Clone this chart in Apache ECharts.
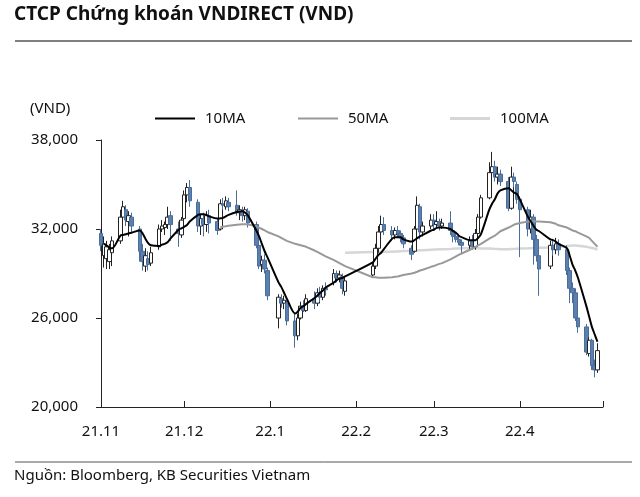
<!DOCTYPE html>
<html>
<head>
<meta charset="utf-8">
<script src="https://cdn.jsdelivr.net/npm/echarts@6/dist/echarts.min.js"></script>
<style>
html,body{margin:0;padding:0;background:#fff;}
#chart{width:640px;height:497px;}
</style>
</head>
<body>
<div id="chart"></div>
<script>
// ---- DATA ----
const dates = [
 '2021-11-01','2021-11-02','2021-11-03','2021-11-04','2021-11-05','2021-11-08','2021-11-09','2021-11-10','2021-11-11','2021-11-12','2021-11-15','2021-11-16','2021-11-17','2021-11-18','2021-11-19','2021-11-22','2021-11-23','2021-11-24','2021-11-25','2021-11-26','2021-11-29','2021-11-30',
 '2021-12-01','2021-12-02','2021-12-03','2021-12-06','2021-12-07','2021-12-08','2021-12-09','2021-12-10','2021-12-13','2021-12-14','2021-12-15','2021-12-16','2021-12-17','2021-12-20','2021-12-21','2021-12-22','2021-12-23','2021-12-24','2021-12-27','2021-12-28','2021-12-29','2021-12-30','2021-12-31',
 '2022-01-04','2022-01-05','2022-01-06','2022-01-07','2022-01-10','2022-01-11','2022-01-12','2022-01-13','2022-01-14','2022-01-17','2022-01-18','2022-01-19','2022-01-20','2022-01-21','2022-01-24','2022-01-25','2022-01-26','2022-01-27','2022-01-28',
 '2022-02-07','2022-02-08','2022-02-09','2022-02-10','2022-02-11','2022-02-14','2022-02-15','2022-02-16','2022-02-17','2022-02-18','2022-02-21','2022-02-22','2022-02-23','2022-02-24','2022-02-25','2022-02-28',
 '2022-03-01','2022-03-02','2022-03-03','2022-03-04','2022-03-07','2022-03-08','2022-03-09','2022-03-10','2022-03-11','2022-03-14','2022-03-15','2022-03-16','2022-03-17','2022-03-18','2022-03-21','2022-03-22','2022-03-23','2022-03-24','2022-03-25','2022-03-28','2022-03-29','2022-03-30','2022-03-31',
 '2022-04-01','2022-04-04','2022-04-05','2022-04-06','2022-04-07','2022-04-08','2022-04-12','2022-04-13','2022-04-14','2022-04-15','2022-04-18','2022-04-19','2022-04-20','2022-04-21','2022-04-22','2022-04-25','2022-04-26','2022-04-27','2022-04-28','2022-04-29'
];
const openP = [
 31700,30200,30000,29800,30400,31200,32800,33300,32500,32800,32000,30500,29500,30000,29700,30800,32000,32100,32300,32900,32000,31600,
 32700,34300,34800,33800,32200,32700,32300,32900,32500,32000,33700,33500,33800,33600,33100,33200,32900,33200,32300,30900,29600,29900,29200,
 26000,27300,27000,27000,25800,24800,26000,26800,26500,27300,27000,27700,27400,28000,28400,29000,28700,28800,27800,
 28900,29500,30700,31800,32300,31900,31600,31900,31700,31400,30700,30500,32000,33500,31800,32200,
 32600,32300,32500,32200,32400,31900,31500,31300,31100,30900,31200,30800,31700,32800,34100,35800,36200,35500,35700,35200,33400,35500,35000,
 34000,33300,32000,32800,31300,30200,29500,30900,30600,31000,30600,29200,28000,27700,26000,25400,23600,24500,22800,22500
];
const closeP = [
 30900,31000,30800,30600,31200,32800,33500,32600,32900,32200,30500,29800,30200,29600,30400,32000,32200,32300,32800,32300,31700,32600,
 34300,34800,33900,32200,32700,32300,32900,32400,31900,33700,33600,33900,33500,33100,33300,32900,33300,32400,30900,29500,29900,29300,27500,
 27400,27000,27200,25800,24800,26000,26800,26500,27300,27000,27700,27400,28000,27900,29000,28700,28900,28000,28500,
 29500,30700,31800,32300,31900,31600,31900,31700,31400,31000,30300,32000,33600,31800,32200,32600,
 32300,32500,32200,32400,31900,31500,31300,31100,30900,31200,30800,31700,32800,34100,35800,36200,35500,35700,35200,33400,35500,35200,34000,
 33300,32000,32800,31300,30200,29300,30900,30600,31000,30600,29200,28000,27700,26000,25400,23700,24500,22800,22500,23800
];
const lowP = [
 30500,29400,29300,29300,29500,31000,32400,32200,31500,31800,29800,29200,29100,29200,29500,30600,31800,31600,32000,31200,30800,31400,
 32600,33800,33500,31800,31600,31500,31800,31700,31600,31900,33300,33300,33200,32900,32600,32500,32600,32100,30700,29300,29100,29000,27200,
 25300,26700,26600,25500,24000,24500,25900,26400,26400,26600,26800,27100,27200,27500,28200,28400,28400,27600,27500,
 28700,29300,30400,31400,31600,31200,31300,31400,31100,30700,29900,30400,31900,31300,31500,32000,
 32000,32100,31900,32000,31600,31100,31100,30900,30300,30600,30600,30600,31500,32700,34000,35400,35200,35000,34900,33200,33300,34800,33700,
 30100,31500,31700,29600,29800,27500,29300,30200,30300,30200,28900,27000,27000,25800,25000,23500,23400,22500,22000,22300
];
const highP = [
 32000,31500,31200,31000,31500,33300,33900,33600,33200,33100,32200,31000,30700,30500,30800,32300,32600,32500,33500,33200,32500,32800,
 34600,35100,35300,34000,33000,33100,33200,33300,32700,34000,34100,34200,34100,34600,33600,33500,33500,33400,32500,31100,30200,30300,29400,
 27600,27600,27500,27200,26300,26300,27100,27200,27600,27800,28000,28100,28200,28400,29300,29200,29200,29000,28700,
 29700,31000,32200,32900,32800,32200,32100,32200,31900,31600,30900,32200,34200,33700,32500,33000,
 33000,33200,32700,32700,33200,32100,31800,31500,31300,31500,31600,32000,33000,34300,36500,37200,36600,36200,36000,35500,36200,35800,35200,
 34200,33500,33300,33000,31600,30600,31200,31300,31400,31300,30900,29400,28400,28000,26800,25600,24700,24600,23200,24300
];
const ma10 = [
 null,31000,30900,30750,30700,31550,31600,31650,31700,31750,31900,31700,31350,31050,30900,30850,30950,31000,31100,31350,31950,32050,
 32150,32270,32500,32950,33000,33000,32950,32850,32700,32720,32750,32850,32950,33150,33180,33200,33100,32900,31900,31500,31000,30500,30100,
 28400,28100,27700,27300,26300,26450,26700,26800,26950,27350,27500,27700,27850,28050,28400,28550,28650,28700,28800,
 29750,30000,30250,30400,30650,31350,31450,31450,31450,31300,31150,31250,31380,31500,31600,31900,
 31950,32080,32100,32100,32000,31850,31750,31550,31450,31250,31250,31250,31400,31650,33300,33700,34000,34400,34600,34750,34600,34450,34350,
 34000,32800,32500,32200,31950,31850,31300,31250,31150,31000,30700,30200,29600,29200,28700,26800,26100,25400,24900,24400
];
const ma50 = [
 null,null,null,null,null,null,null,null,null,null,null,null,null,null,null,null,null,null,null,null,null,null,
 null,null,null,null,null,null,null,null,null,32100,32150,32180,32220,32280,32300,32320,32320,32300,32200,32100,32000,31900,31800,
 31500,31400,31300,31200,31000,30950,30900,30850,30800,30550,30450,30350,30250,30150,29900,29800,29700,29600,29500,
 28750,28750,28720,28720,28720,28750,28780,28800,28850,28900,29000,29050,29120,29200,29250,29450,
 29500,29580,29650,29700,29950,30050,30150,30250,30350,30600,30700,30800,30900,31000,31350,31450,31550,31700,31850,32100,32200,32300,32350,
 32400,32500,32520,32520,32500,32500,32450,32400,32350,32250,32100,32000,31900,31850,31750,31500,31400,31200,31000,30800
];
const ma100 = [
 null,null,null,null,null,null,null,null,null,null,null,null,null,null,null,null,null,null,null,null,null,null,
 null,null,null,null,null,null,null,null,null,null,null,null,null,null,null,null,null,null,null,null,null,null,null,
 null,null,null,null,null,null,null,null,null,null,null,null,null,null,null,null,null,null,30400,
 30450,30450,30450,30450,30460,30470,30480,30490,30500,30510,30530,30540,30550,30560,30570,30600,
 30610,30620,30630,30640,30660,30670,30680,30690,30700,30700,30700,30700,30700,30690,30680,30670,30660,30650,30640,30640,30650,30660,30670,
 30680,30700,30710,30720,30730,30740,30760,30780,30790,30800,30850,30870,30880,30880,30870,30800,30760,30720,30680,30620
];
const seriesNames = ['10MA', '50MA', '100MA'];
const tickDates = ['2021-11-01','2021-12-01','2022-01-01','2022-02-01','2022-03-01','2022-04-01','2022-05-01'];
const tickLabels = ['21.11','21.12','22.1','22.2','22.3','22.4'];
const yTicks = [20000, 26000, 32000, 38000];

// ---- BUILD ----
const DAY = 86400000;
const t0 = Date.parse(tickDates[0]);
const dayOf = d => Math.round((Date.parse(d) - t0) / DAY);
const xs = dates.map(dayOf);
const tickX = tickDates.map(dayOf);
const candleData = dates.map((d, i) => [xs[i], openP[i], closeP[i], lowP[i], highP[i]]);
const lineData = arr => arr.map((v, i) => v == null ? null : [xs[i], v]).filter(p => p);

const FONT = '"Noto Sans", "Liberation Sans", sans-serif';
const chart = echarts.init(document.getElementById('chart'), null, {renderer: 'canvas'});
const legendItem = (name, left, h) => ({
  data: [{name: name, icon: 'rect'}], left: left, top: 106, itemWidth: 40, itemHeight: h,
  selectedMode: false,
  textStyle: {fontFamily: FONT, fontSize: 15, color: '#111', padding: [0, 0, 0, 5]}
});
chart.setOption({
  animation: false,
  backgroundColor: '#fff',
  grid: {left: 101, right: 37, top: 140, bottom: 90, containLabel: false},
  legend: [legendItem(seriesNames[0], 150, 2), legendItem(seriesNames[1], 293, 2), legendItem(seriesNames[2], 445, 3)],
  xAxis: {
    type: 'value', min: tickX[0], max: tickX[tickX.length - 1],
    splitLine: {show: false},
    axisLine: {show: true, lineStyle: {color: '#222', width: 1}},
    axisTick: {show: true, inside: true, length: 6, customValues: tickX, lineStyle: {color: '#222'}},
    axisLabel: {
      customValues: tickX.slice(0, tickLabels.length), margin: 17,
      fontFamily: FONT, fontSize: 15, color: '#111',
      formatter: v => tickLabels[tickX.indexOf(v)] || ''
    }
  },
  yAxis: {
    type: 'value', min: yTicks[0], max: yTicks[yTicks.length - 1], interval: 6000,
    splitLine: {show: false},
    axisLine: {show: true, lineStyle: {color: '#222', width: 1}},
    axisTick: {show: true, length: 5, lineStyle: {color: '#222'}},
    axisLabel: {margin: 23, fontFamily: FONT, fontSize: 15, color: '#111',
      formatter: v => v.toLocaleString('en-US')}
  },
  graphic: [
    {type: 'text', left: 14, top: 5, style: {text: 'CTCP Chứng khoán VNDIRECT (VND)', fontFamily: FONT, fontSize: 19, fontWeight: 'bold', fill: '#111'}},
    {type: 'line', shape: {x1: 15, y1: 41, x2: 632, y2: 41}, style: {stroke: '#555', lineWidth: 1.5}},
    {type: 'text', left: 30, top: 101, style: {text: '(VND)', fontFamily: FONT, fontSize: 15, fill: '#111'}},
    {type: 'line', shape: {x1: 15, y1: 462, x2: 632, y2: 462}, style: {stroke: '#555', lineWidth: 1}},
    {type: 'text', left: 14, top: 468, style: {text: 'Nguồn: Bloomberg, KB Securities Vietnam', fontFamily: FONT, fontSize: 15, fill: '#111'}}
  ],
  series: [
    {
      name: seriesNames[2], type: 'line', data: lineData(ma100), showSymbol: false, z: 1,
      lineStyle: {color: '#d6d6d6', width: 2.5}, itemStyle: {color: '#d6d6d6'}
    },
    {
      type: 'candlestick', data: candleData, barWidth: 4, z: 2,
      itemStyle: {color: '#ffffff', borderColor: '#222', color0: '#5b7fae', borderColor0: '#4a6d9a', borderWidth: 1}
    },
    {
      name: seriesNames[1], type: 'line', data: lineData(ma50), showSymbol: false, z: 3,
      lineStyle: {color: '#999999', width: 2}, itemStyle: {color: '#999999'}
    },
    {
      name: seriesNames[0], type: 'line', data: lineData(ma10), showSymbol: false, smooth: 0.3, z: 4,
      lineStyle: {color: '#000000', width: 2}, itemStyle: {color: '#000000'}
    }
  ]
});
</script>
</body>
</html>
